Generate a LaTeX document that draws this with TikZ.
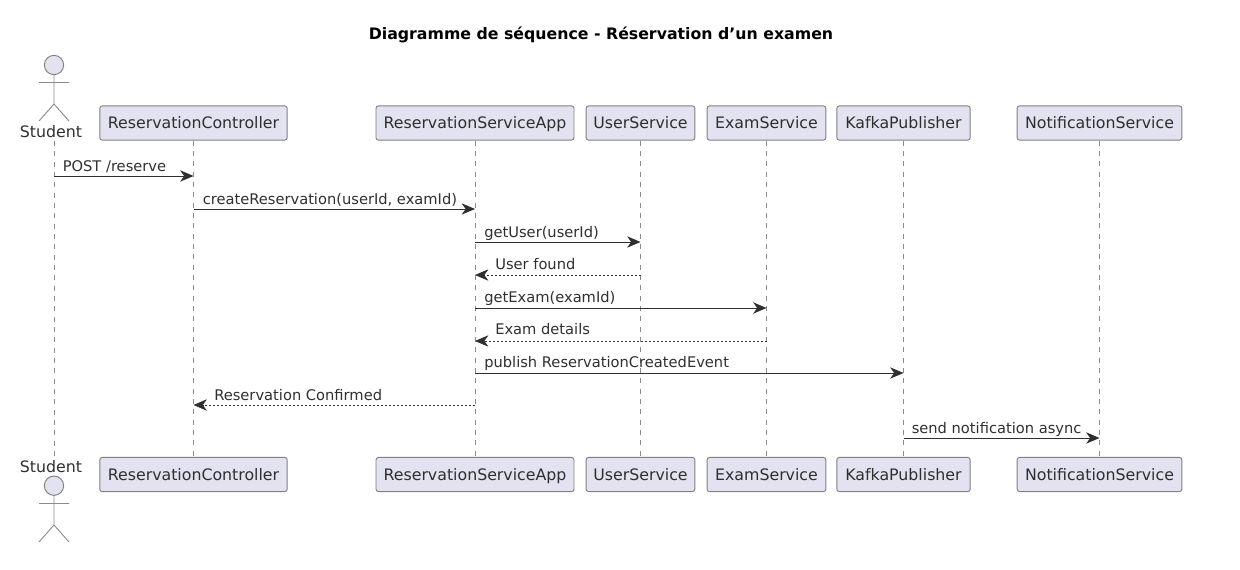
\documentclass[tikz,border=0pt]{standalone}
\usepackage{fontspec}
\setmainfont{DejaVu Sans}
\usetikzlibrary{arrows.meta}
\definecolor{pfill}{HTML}{E2E2F0}
\definecolor{pline}{HTML}{181818}
\tikzset{
  x=0.75pt,y=-0.75pt,
  part/.style={draw=pline!55,line width=0.7pt,fill=pfill,rounded corners=1.8pt,minimum height=25.6pt,inner sep=0pt,text=pline!90,text height=9.8pt,text depth=1.4pt,font=\fontsize{11.84}{14}\selectfont},
  actorlabel/.style={inner sep=0pt,text=pline!90,font=\fontsize{11.84}{14}\selectfont,anchor=base},
  limb/.style={draw=pline!50,line width=0.7pt},
  head/.style={draw=pline!55,line width=0.7pt,fill=pfill,circle,minimum size=14.5pt,inner sep=0pt},
  life/.style={draw=pline!50,line width=0.5pt,dash pattern=on 3.75pt off 4pt},
  msg/.style={draw=pline!90,line width=0.7pt,-{Stealth[length=10pt,width=8.5pt,inset=3pt]}},
  ret/.style={msg,line width=0.6pt,dash pattern=on 1.5pt off 1.5pt},
  lab/.style={inner sep=0pt,anchor=base west,text=pline!90,font=\fontsize{11}{13}\selectfont},
}
\begin{document}
\begin{tikzpicture}
\useasboundingbox (0,0) rectangle (1240,569);
\node[inner sep=0pt,anchor=base,font=\bfseries\fontsize{11.82}{14}\selectfont] (title) at (601,39) {Diagramme de séquence - Réservation d’un examen};

% participants, top
\node[part,minimum width=140.5pt] (ctrlT) at (193.5,123) {ReservationController};
\node[part,minimum width=148.5pt] (appT) at (475,123) {ReservationServiceApp};
\node[part,minimum width=81.5pt] (userT) at (640.5,123) {UserService};
\node[part,minimum width=89pt] (examT) at (766.5,123) {ExamService};
\node[part,minimum width=100pt] (kafkaT) at (903.5,123) {KafkaPublisher};
\node[part,minimum width=123.5pt] (notifT) at (1099.5,123) {NotificationService};
% participants, bottom
\node[part,minimum width=140.5pt] (ctrlB) at (193.5,474.5) {ReservationController};
\node[part,minimum width=148.5pt] (appB) at (475,474.5) {ReservationServiceApp};
\node[part,minimum width=81.5pt] (userB) at (640.5,474.5) {UserService};
\node[part,minimum width=89pt] (examB) at (766.5,474.5) {ExamService};
\node[part,minimum width=100pt] (kafkaB) at (903.5,474.5) {KafkaPublisher};
\node[part,minimum width=123.5pt] (notifB) at (1099.5,474.5) {NotificationService};

% actor, top
\node[head] (headT) at (54,65) {};
\draw[limb] (headT.south) -- (54,104) -- (39,121) (54,104) -- (69,121) (39,82.5) -- (69,82.5);
\node[actorlabel] (studT) at (51,137.5) {Student};
\coordinate (stT) at (54,141);
% actor, bottom
\node[actorlabel] (studB) at (51,472.5) {Student};
\node[head] (headB) at (54,485.7) {};
\draw[limb] (headB.south) -- (54,525) -- (39,542) (54,525) -- (69,542) (39,503.5) -- (69,503.5);
\coordinate (stB) at (54,456);

% lifelines
\draw[life] (stT) -- (stB);
\foreach \n in {ctrl,app,user,exam,kafka,notif}{
  \draw[life] (\n T.south) -- (\n B.north);
}

% message rows
\coordinate (r1) at (0,176);
\coordinate (r2) at (0,209);
\coordinate (r3) at (0,242);
\coordinate (r4) at (0,275);
\coordinate (r5) at (0,308);
\coordinate (r6) at (0,341);
\coordinate (r7) at (0,373);
\coordinate (r8) at (0,405);
\coordinate (r9) at (0,438);

\draw[msg] (stT |- r1) -- (ctrlT |- r1);
\node[lab] (l1) at (62.5,171.5) {POST /reserve};
\draw[msg] (ctrlT |- r2) -- (appT |- r2);
\node[lab] (l2) at (202.5,204.5) {createReservation(userId, examId)};
\draw[msg] (appT |- r3) -- (userT |- r3);
\node[lab] (l3) at (484,237) {getUser(userId)};
\draw[ret] (userT |- r4) -- (appT |- r4);
\node[lab] (l4) at (495,269) {User found};
\draw[msg] (appT |- r5) -- (examT |- r5);
\node[lab] (l5) at (484,302) {getExam(examId)};
\draw[ret] (examT |- r6) -- (appT |- r6);
\node[lab] (l6) at (495,334.5) {Exam details};
\draw[msg] (appT |- r7) -- (kafkaT |- r7);
\node[lab] (l7) at (484,367) {publish ReservationCreatedEvent};
\draw[ret] (appT |- r8) -- (ctrlT |- r8);
\node[lab] (l8) at (214,400) {Reservation Confirmed};
\draw[msg] (kafkaT |- r9) -- (notifT |- r9);
\node[lab] (l9) at (911.5,433) {send notification async};
\end{tikzpicture}
\end{document}
